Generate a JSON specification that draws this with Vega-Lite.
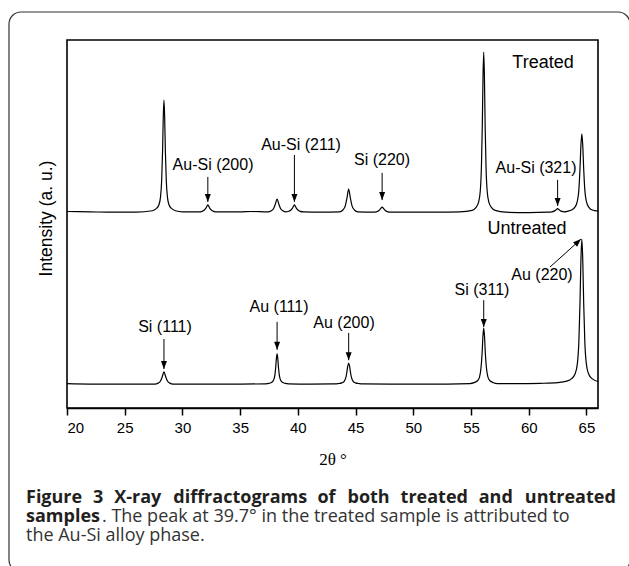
{
  "$schema": "https://vega.github.io/schema/vega-lite/v6.json",
  "width": 531,
  "height": 368,
  "autosize": {"type": "none"},
  "padding": {"left": 67, "top": 40, "right": 31, "bottom": 158},
  "background": "white",
  "config": {
    "view": {"stroke": "black", "strokeWidth": 1.6},
    "font": "Liberation Sans"
  },
  "datasets": {
    "curves": [
      {"series":"Treated","x":20,"y":53.4},{"series":"Treated","x":22,"y":53.3},{"series":"Treated","x":24,"y":53.2},{"series":"Treated","x":26,"y":53.2},
      {"series":"Treated","x":27.4,"y":53.6},{"series":"Treated","x":27.7,"y":54.1},{"series":"Treated","x":27.95,"y":55.1},{"series":"Treated","x":28.1,"y":57.3},
      {"series":"Treated","x":28.2,"y":61.8},{"series":"Treated","x":28.28,"y":70.0},{"series":"Treated","x":28.34,"y":79.1},{"series":"Treated","x":28.4,"y":83.7},
      {"series":"Treated","x":28.46,"y":79.1},{"series":"Treated","x":28.52,"y":70.0},{"series":"Treated","x":28.6,"y":61.8},{"series":"Treated","x":28.7,"y":57.3},
      {"series":"Treated","x":28.85,"y":55.1},{"series":"Treated","x":29.1,"y":54.1},{"series":"Treated","x":29.4,"y":53.6},{"series":"Treated","x":30,"y":53.3},
      {"series":"Treated","x":31.4,"y":53.3},{"series":"Treated","x":31.7,"y":53.45},{"series":"Treated","x":31.9,"y":53.8},{"series":"Treated","x":32.05,"y":54.4},
      {"series":"Treated","x":32.2,"y":55.2},{"series":"Treated","x":32.35,"y":54.4},{"series":"Treated","x":32.5,"y":53.8},{"series":"Treated","x":32.7,"y":53.45},
      {"series":"Treated","x":33,"y":53.3},{"series":"Treated","x":35,"y":53.3},{"series":"Treated","x":36,"y":53.4},{"series":"Treated","x":37.4,"y":53.3},
      {"series":"Treated","x":37.7,"y":53.6},{"series":"Treated","x":37.9,"y":54.2},{"series":"Treated","x":38.05,"y":55.4},{"series":"Treated","x":38.2,"y":56.8},
      {"series":"Treated","x":38.35,"y":55.4},{"series":"Treated","x":38.5,"y":54.2},{"series":"Treated","x":38.7,"y":53.6},{"series":"Treated","x":38.95,"y":53.3},
      {"series":"Treated","x":39.2,"y":53.45},{"series":"Treated","x":39.4,"y":53.8},{"series":"Treated","x":39.55,"y":54.4},{"series":"Treated","x":39.7,"y":55.2},
      {"series":"Treated","x":39.85,"y":54.4},{"series":"Treated","x":40,"y":53.8},{"series":"Treated","x":40.2,"y":53.45},{"series":"Treated","x":40.5,"y":53.3},
      {"series":"Treated","x":42,"y":53.2},{"series":"Treated","x":43.6,"y":53.3},{"series":"Treated","x":43.9,"y":53.8},{"series":"Treated","x":44.1,"y":54.85},
      {"series":"Treated","x":44.25,"y":57.0},{"series":"Treated","x":44.4,"y":59.5},{"series":"Treated","x":44.55,"y":57.0},{"series":"Treated","x":44.7,"y":54.85},
      {"series":"Treated","x":44.9,"y":53.8},{"series":"Treated","x":45.2,"y":53.3},{"series":"Treated","x":46.5,"y":53.2},{"series":"Treated","x":46.8,"y":53.3},
      {"series":"Treated","x":47,"y":53.6},{"series":"Treated","x":47.15,"y":54.1},{"series":"Treated","x":47.3,"y":54.6},{"series":"Treated","x":47.45,"y":54.1},
      {"series":"Treated","x":47.6,"y":53.6},{"series":"Treated","x":47.8,"y":53.3},{"series":"Treated","x":48.1,"y":53.2},{"series":"Treated","x":50,"y":53.2},
      {"series":"Treated","x":52,"y":53.2},{"series":"Treated","x":54,"y":53.3},{"series":"Treated","x":55.1,"y":53.7},{"series":"Treated","x":55.4,"y":54.4},
      {"series":"Treated","x":55.65,"y":55.9},{"series":"Treated","x":55.8,"y":58.9},{"series":"Treated","x":55.9,"y":65.5},{"series":"Treated","x":55.98,"y":77.2},
      {"series":"Treated","x":56.04,"y":90.2},{"series":"Treated","x":56.1,"y":96.7},{"series":"Treated","x":56.16,"y":90.2},{"series":"Treated","x":56.22,"y":77.2},
      {"series":"Treated","x":56.3,"y":65.5},{"series":"Treated","x":56.4,"y":58.9},{"series":"Treated","x":56.55,"y":55.9},{"series":"Treated","x":56.8,"y":54.4},
      {"series":"Treated","x":57.1,"y":53.7},{"series":"Treated","x":58,"y":53.2},{"series":"Treated","x":60,"y":53.1},{"series":"Treated","x":61.7,"y":53.2},
      {"series":"Treated","x":62,"y":53.3},{"series":"Treated","x":62.2,"y":53.5},{"series":"Treated","x":62.35,"y":53.8},{"series":"Treated","x":62.5,"y":54.2},
      {"series":"Treated","x":62.65,"y":53.8},{"series":"Treated","x":62.8,"y":53.5},{"series":"Treated","x":63.1,"y":53.3},{"series":"Treated","x":63.4,"y":53.5},
      {"series":"Treated","x":63.7,"y":53.8},{"series":"Treated","x":64,"y":54.6},{"series":"Treated","x":64.2,"y":56.1},{"series":"Treated","x":64.34,"y":59.2},
      {"series":"Treated","x":64.44,"y":65.0},{"series":"Treated","x":64.52,"y":71.3},{"series":"Treated","x":64.6,"y":74.5},{"series":"Treated","x":64.68,"y":71.3},
      {"series":"Treated","x":64.76,"y":65.0},{"series":"Treated","x":64.86,"y":59.2},{"series":"Treated","x":65,"y":56.1},{"series":"Treated","x":65.2,"y":54.6},
      {"series":"Treated","x":65.5,"y":53.8},{"series":"Treated","x":66,"y":53.5},
      {"series":"Untreated","x":20,"y":6.6},{"series":"Untreated","x":22,"y":6.5},{"series":"Untreated","x":24,"y":6.5},{"series":"Untreated","x":26,"y":6.5},
      {"series":"Untreated","x":27.6,"y":6.5},{"series":"Untreated","x":27.9,"y":6.76},{"series":"Untreated","x":28.1,"y":7.33},{"series":"Untreated","x":28.25,"y":8.48},
      {"series":"Untreated","x":28.4,"y":9.8},{"series":"Untreated","x":28.55,"y":8.48},{"series":"Untreated","x":28.7,"y":7.33},{"series":"Untreated","x":28.9,"y":6.76},
      {"series":"Untreated","x":29.2,"y":6.5},{"series":"Untreated","x":32,"y":6.5},{"series":"Untreated","x":35,"y":6.5},{"series":"Untreated","x":37.2,"y":6.58},
      {"series":"Untreated","x":37.5,"y":6.7},{"series":"Untreated","x":37.75,"y":7.0},{"series":"Untreated","x":37.9,"y":7.6},{"series":"Untreated","x":38,"y":8.8},
      {"series":"Untreated","x":38.08,"y":11.0},{"series":"Untreated","x":38.14,"y":13.5},{"series":"Untreated","x":38.2,"y":14.7},{"series":"Untreated","x":38.26,"y":13.5},
      {"series":"Untreated","x":38.32,"y":11.0},{"series":"Untreated","x":38.4,"y":8.8},{"series":"Untreated","x":38.5,"y":7.6},{"series":"Untreated","x":38.65,"y":7.0},
      {"series":"Untreated","x":38.9,"y":6.7},{"series":"Untreated","x":39.2,"y":6.58},{"series":"Untreated","x":41,"y":6.5},{"series":"Untreated","x":43.1,"y":6.56},
      {"series":"Untreated","x":43.49,"y":6.64},{"series":"Untreated","x":43.82,"y":6.84},{"series":"Untreated","x":44.01,"y":7.24},{"series":"Untreated","x":44.14,"y":8.1},
      {"series":"Untreated","x":44.24,"y":9.64},{"series":"Untreated","x":44.32,"y":11.35},{"series":"Untreated","x":44.4,"y":12.2},{"series":"Untreated","x":44.48,"y":11.35},
      {"series":"Untreated","x":44.56,"y":9.64},{"series":"Untreated","x":44.66,"y":8.1},{"series":"Untreated","x":44.79,"y":7.24},{"series":"Untreated","x":44.98,"y":6.84},
      {"series":"Untreated","x":45.31,"y":6.64},{"series":"Untreated","x":45.7,"y":6.56},{"series":"Untreated","x":48,"y":6.5},{"series":"Untreated","x":51,"y":6.5},
      {"series":"Untreated","x":54.9,"y":6.65},{"series":"Untreated","x":55.26,"y":6.88},{"series":"Untreated","x":55.56,"y":7.41},{"series":"Untreated","x":55.74,"y":8.48},
      {"series":"Untreated","x":55.86,"y":10.76},{"series":"Untreated","x":55.96,"y":14.86},{"series":"Untreated","x":56.03,"y":19.42},{"series":"Untreated","x":56.1,"y":21.7},
      {"series":"Untreated","x":56.17,"y":19.42},{"series":"Untreated","x":56.24,"y":14.86},{"series":"Untreated","x":56.34,"y":10.76},{"series":"Untreated","x":56.46,"y":8.48},
      {"series":"Untreated","x":56.64,"y":7.41},{"series":"Untreated","x":56.94,"y":6.88},{"series":"Untreated","x":57.3,"y":6.65},{"series":"Untreated","x":59,"y":6.6},
      {"series":"Untreated","x":61,"y":6.7},{"series":"Untreated","x":62.5,"y":6.9},{"series":"Untreated","x":63.3,"y":7.3},{"series":"Untreated","x":63.69,"y":7.9},
      {"series":"Untreated","x":64.02,"y":9.3},{"series":"Untreated","x":64.21,"y":12.0},{"series":"Untreated","x":64.34,"y":17.9},{"series":"Untreated","x":64.44,"y":28.5},
      {"series":"Untreated","x":64.52,"y":40.2},{"series":"Untreated","x":64.6,"y":45.9},{"series":"Untreated","x":64.68,"y":40.2},{"series":"Untreated","x":64.76,"y":28.5},
      {"series":"Untreated","x":64.86,"y":17.9},{"series":"Untreated","x":64.99,"y":12.0},{"series":"Untreated","x":65.18,"y":9.3},{"series":"Untreated","x":65.51,"y":7.9},
      {"series":"Untreated","x":66,"y":7.2}
    ],
    "arrows": [
      {"peak":"Au-Si (200)","x":32.2,"y":56.0,"x2":32.2,"y2":62.8,"angle":0},
      {"peak":"Au-Si (211)","x":39.7,"y":56.0,"x2":39.7,"y2":68.75,"angle":0},
      {"peak":"Si (220)","x":47.3,"y":56.5,"x2":47.3,"y2":63.9,"angle":0},
      {"peak":"Au-Si (321)","x":62.5,"y":54.9,"x2":62.5,"y2":62.0,"angle":0},
      {"peak":"Si (111)","x":28.4,"y":10.6,"x2":28.4,"y2":18.75,"angle":0},
      {"peak":"Au (111)","x":38.2,"y":15.8,"x2":38.2,"y2":23.4,"angle":0},
      {"peak":"Au (200)","x":44.4,"y":13.0,"x2":44.4,"y2":20.4,"angle":0},
      {"peak":"Si (311)","x":56.1,"y":22.0,"x2":56.1,"y2":29.3,"angle":0},
      {"peak":"Au (220)","x":64.53,"y":45.9,"x2":61.84,"y2":38.3,"angle":228}
    ],
    "peakLabels": [
      {"text":"Au-Si (200)","x":32.65,"y":66.0},
      {"text":"Au-Si (211)","x":40.27,"y":71.5},
      {"text":"Si (220)","x":47.29,"y":67.4},
      {"text":"Au-Si (321)","x":60.63,"y":65.2},
      {"text":"Au (220)","x":61.15,"y":36.1},
      {"text":"Si (311)","x":55.95,"y":32.1},
      {"text":"Au (111)","x":38.37,"y":27.4},
      {"text":"Au (200)","x":44.0,"y":23.1},
      {"text":"Si (111)","x":28.49,"y":22.0}
    ],
    "seriesLabels": [
      {"text":"Treated","x":61.24,"y":93.75},
      {"text":"Untreated","x":59.85,"y":48.6}
    ],
    "captionBold": [
      {"text":"Figure","x":16.448,"y":-25.82},
      {"text":"3","x":22.261,"y":-25.82},
      {"text":"X-ray","x":24.089,"y":-25.82},
      {"text":"diffractograms","x":29.209,"y":-25.82},
      {"text":"of","x":41.692,"y":-25.82},
      {"text":"both","x":44.3,"y":-25.82},
      {"text":"treated","x":48.9,"y":-25.82},
      {"text":"and","x":55.665,"y":-25.82},
      {"text":"untreated","x":59.659,"y":-25.82},
      {"text":"samples","x":16.448,"y":-30.98}
    ],
    "captionNormal": [
      {"text":". The peak at 39.7° in the treated sample is attributed to","x":23.03,"y":-30.98},
      {"text":"the Au-Si alloy phase.","x":16.448,"y":-36.14}
    ],
    "frame": [
      {"x":14.975,"x2":68.774,"y":107.61,"y2":-44.57}
    ]
  },
  "encoding": {
    "x": {
      "field": "x", "type": "quantitative",
      "scale": {"domain": [20, 66], "nice": false, "zero": false},
      "axis": {
        "values": [20, 25, 30, 35, 40, 45, 50, 55, 60, 65],
        "grid": false,
        "domain": true, "domainColor": "black", "domainWidth": 1.6,
        "ticks": true, "tickColor": "black", "tickWidth": 1.5, "tickSize": 7,
        "labelFont": "Liberation Sans", "labelFontSize": 15, "labelColor": "black", "labelPadding": 5,
        "title": "2θ °",
        "titleFont": "Liberation Serif", "titleFontSize": 17, "titleFontWeight": "normal", "titleColor": "black",
        "titlePadding": 16
      }
    },
    "y": {
      "field": "y", "type": "quantitative",
      "scale": {"domain": [0, 100], "nice": false, "zero": false},
      "axis": {
        "grid": false, "domain": false, "ticks": false, "labels": false,
        "title": "Intensity (a. u.)",
        "titleFont": "Liberation Sans", "titleFontSize": 17.5, "titleFontWeight": "normal", "titleColor": "black",
        "titleX": -21, "titleY": 178, "titleBaseline": "middle"
      }
    }
  },
  "layer": [
    {
      "data": {"name": "frame"},
      "mark": {"type": "rect", "fill": null, "stroke": "#333333", "strokeWidth": 1.2, "cornerRadius": 12, "clip": false},
      "encoding": {
        "x2": {"field": "x2"},
        "y2": {"field": "y2"}
      }
    },
    {
      "data": {"name": "curves"},
      "mark": {"type": "line", "color": "black", "strokeWidth": 1.2, "interpolate": "monotone"},
      "encoding": {
        "detail": {"field": "series", "type": "nominal"}
      }
    },
    {
      "data": {"name": "arrows"},
      "mark": {"type": "rule", "color": "black", "strokeWidth": 1},
      "encoding": {
        "x2": {"field": "x2"},
        "y2": {"field": "y2"}
      }
    },
    {
      "data": {"name": "arrows"},
      "mark": {"type": "point", "shape": "M0,0L-0.6,-1.6L0.6,-1.6Z", "filled": true, "color": "black", "size": 100, "opacity": 1},
      "encoding": {
        "angle": {"field": "angle", "type": "quantitative", "scale": null}
      }
    },
    {
      "data": {"name": "peakLabels"},
      "mark": {"type": "text", "font": "Liberation Sans", "fontSize": 16, "color": "black", "align": "center", "baseline": "middle"},
      "encoding": {"text": {"field": "text"}}
    },
    {
      "data": {"name": "seriesLabels"},
      "mark": {"type": "text", "font": "Liberation Sans", "fontSize": 18, "color": "black", "align": "center", "baseline": "middle"},
      "encoding": {"text": {"field": "text"}}
    },
    {
      "data": {"name": "captionBold"},
      "mark": {"type": "text", "font": "Open Sans", "fontSize": 18, "fontWeight": "bold", "color": "#231f20", "align": "left", "baseline": "alphabetic", "clip": false},
      "encoding": {"text": {"field": "text"}}
    },
    {
      "data": {"name": "captionNormal"},
      "mark": {"type": "text", "font": "Open Sans", "fontSize": 18, "color": "#333333", "align": "left", "baseline": "alphabetic", "clip": false},
      "encoding": {"text": {"field": "text"}}
    }
  ]
}
